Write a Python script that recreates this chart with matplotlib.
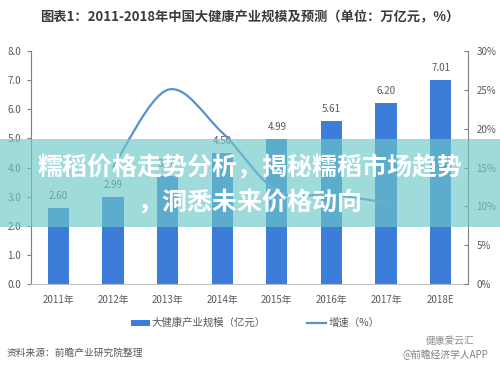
import matplotlib
matplotlib.use("Agg")
import matplotlib.pyplot as plt
from matplotlib.path import Path
from matplotlib.patches import PathPatch, Rectangle
from matplotlib.lines import Line2D
from matplotlib.patches import Patch
import numpy as np

plt.rcParams['font.family'] = ['Noto Sans CJK SC', 'DejaVu Sans']

categories = ['2011年', '2012年', '2013年', '2014年', '2015年', '2016年', '2017年', '2018E']
scale = [2.60, 2.99, 3.70, 4.50, 4.99, 5.61, 6.20, 7.01]
scale_labels = ['2.60', '2.99', '3.70', '4.50', '4.99', '5.61', '6.20', '7.01']
growth_idx = [1, 2, 3, 4, 5, 6]
growth = [15.0, 25.0, 19.5, 12.0, 11.5, 10.5]

title = '图表1：2011-2018年中国大健康产业规模及预测（单位：万亿元，%）'
banner1 = '糯稻价格走势分析，揭秘糯稻市场趋势'
banner2 = '，洞悉未来价格动向'

W, H = 500, 368
fig = plt.figure(figsize=(5, 3.68), dpi=100)
fig.patch.set_facecolor('white')

ax = fig.add_axes([31/W, 1-284/H, (468-31)/W, (284-51)/H])
ax2 = ax.twinx()

x = np.arange(len(categories))
bar_color = '#3b7dd8'
ax.bar(x, scale, width=0.39, color=bar_color, zorder=2)
for xi, v, s in zip(x, scale, scale_labels):
    ax.annotate(s, (xi, v), xytext=(0, 5), textcoords='offset points',
                ha='center', va='bottom', fontsize=7, color='#595959')

ax.set_xlim(-0.5, len(categories)-0.5)
ax.set_ylim(0, 8)
ax.set_yticks(np.arange(0, 8.1, 1.0))
ax.set_yticklabels([f'{v:.1f}' for v in np.arange(0, 8.1, 1.0)])
ax.set_xticks(x)
ax.set_xticklabels(categories)
ax.tick_params(axis='x', length=0, pad=8, labelsize=7, labelcolor='#595959')
ax.tick_params(axis='y', length=3, direction='out', labelsize=7, labelcolor='#595959', color='#7f7f7f', pad=4)
for sp in ['top', 'right']:
    ax.spines[sp].set_visible(False)
ax.spines['left'].set_color('#7f7f7f')
ax.spines['bottom'].set_color('#bfbfbf')

ax2.set_ylim(0, 30)
ax2.set_yticks(np.arange(0, 31, 5))
ax2.set_yticklabels([f'{int(v)}%' for v in np.arange(0, 31, 5)])
ax2.tick_params(axis='y', length=3, direction='in', labelsize=7, labelcolor='#595959', color='#7f7f7f', pad=6)
for sp in ['top', 'left', 'bottom']:
    ax2.spines[sp].set_visible(False)
ax2.spines['right'].set_color('#7f7f7f')

# smooth line through growth points (Catmull-Rom -> cubic Bezier)
pts = np.column_stack([np.array(growth_idx, float), np.array(growth, float)])
n = len(pts)
verts = [tuple(pts[0])]
codes = [Path.MOVETO]
for i in range(n-1):
    p0 = pts[i-1] if i > 0 else pts[i]
    p1 = pts[i]
    p2 = pts[i+1]
    p3 = pts[i+2] if i+2 < n else pts[i+1]
    c1 = p1 + (p2 - p0) / 6.0
    c2 = p2 - (p3 - p1) / 6.0
    verts += [tuple(c1), tuple(c2), tuple(p2)]
    codes += [Path.CURVE4]*3
line_color = '#5b8fd0'
ax2.add_patch(PathPatch(Path(verts, codes), facecolor='none', edgecolor=line_color, lw=1.6, zorder=3))

# title
fig.text(0.5, 1-17/H, title, ha='center', va='center', fontsize=9.5, fontweight='bold', color='#3a3a3a')

# legend
handles = [Patch(facecolor=bar_color, edgecolor='none'),
           Line2D([0], [0], color=line_color, lw=1.6)]
fig.legend(handles, ['大健康产业规模（亿元）', '增速（%）'], loc='center', bbox_to_anchor=(0.51, 1-323/H),
           ncol=2, frameon=False, fontsize=7.5, handlelength=1.8, handleheight=0.5,
           columnspacing=4, handletextpad=0.2, labelcolor='#595959')

# source
fig.text(7/W, 1-353/H, '资料来源：前瞻产业研究院整理', ha='left', va='center', fontsize=7,
         style='italic', color='#595959')
fig.text(450/W, 1-341/H, '健康爱云汇', ha='center', va='center', fontsize=7, color='#8c8c8c')
fig.text(445/W, 1-355/H, '@前瞻经济学人APP', ha='center', va='center', fontsize=7, color='#7f7f7f')

# banner overlay
fig.patches.append(Rectangle((0, 1-227/H), 1, (227-139)/H, transform=fig.transFigure,
                             facecolor='#6ec8c8', alpha=0.65, edgecolor='none', zorder=10))
fig.text(0.5, 1-168/H, banner1, ha='center', va='center', fontsize=18, fontweight='bold',
         color='white', zorder=11)
fig.text(0.5, 1-203/H, banner2, ha='center', va='center', fontsize=18, fontweight='bold',
         color='white', zorder=11)

fig.savefig('out.png', dpi=100, facecolor='white')
